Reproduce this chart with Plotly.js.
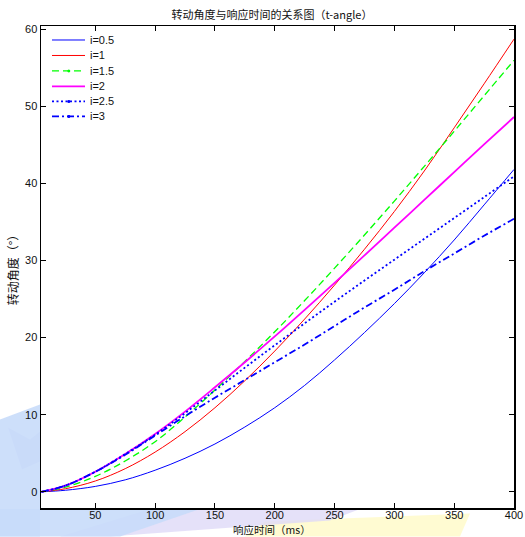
<!DOCTYPE html>
<html>
<head>
<meta charset="utf-8">
<script src="https://cdn.plot.ly/plotly-3.0.1.min.js"></script>
<style>html,body{margin:0;padding:0;background:#fff;}#chart{width:525px;height:537px;}</style>
</head>
<body>
<div id="chart"></div>
<script>
// ---- data ----
const timeMs = [5,25,50,75,100,125,150,175,200,225,250,275,300,325,350,375,400];
const angleI05 = [0,0.2,0.7,1.55,2.8,4.35,6.2,8.4,10.9,13.8,17.1,20.65,24.4,28.4,32.65,37.2,41.8];
const angleI1  = [0,0.4,1.4,3.0,5.15,7.8,10.9,14.4,18.25,22.4,26.8,31.45,36.35,41.6,47.2,52.9,58.7];
const angleI15 = [0,0.6,2.0,4.0,6.5,9.7,13.2,16.9,20.75,24.8,29.0,33.3,37.7,42.2,46.75,51.35,55.95];
const angleI2  = [0,0.8,2.6,4.9,7.5,10.4,13.55,16.8,20.15,23.6,27.1,30.65,34.25,37.85,41.45,45.05,48.6];
const angleI25 = [0,0.8,2.6,4.9,7.4,10.2,13.15,16.1,19.0,21.85,24.65,27.4,30.1,32.8,35.5,38.2,40.9];
const angleI3  = [0,0.8,2.6,4.8,7.3,9.8,12.2,14.5,16.8,19.1,21.5,23.9,26.2,28.6,30.9,33.2,35.4];
const seriesNames = ['i=0.5','i=1','i=1.5','i=2','i=2.5','i=3'];
const xTicks = [50,100,150,200,250,300,350,400];
const yTicks = [0,10,20,30,40,50,60];
const xTitle = '响应时间（ms）';
const yTitle = '转动角度（°）';
const chartTitle = '转动角度与响应时间的关系图（t-angle）';

const W = 525, H = 537;
const L = 41, R = 514, T = 26, B = 508.5;
const px = x => (x - L) / (R - L);
const py = y => (B - y) / (B - T);

const styles = [
  {color:'#0000ff', width:1,   dash:'solid', dot:false},
  {color:'#ff0000', width:1,   dash:'solid', dot:false},
  {color:'#00ff00', width:1.3, dash:'7px,4px', dot:true},
  {color:'#ff00ff', width:1.8, dash:'solid', dot:false},
  {color:'#0000ff', width:1.8, dash:'2px,2.5px', dot:true},
  {color:'#0000ff', width:1.8, dash:'7px,3px,2px,3px', dot:true}
];
const allY = [angleI05, angleI1, angleI15, angleI2, angleI25, angleI3];

const traces = allY.map((ys, k) => ({
  x: timeMs, y: ys, type: 'scatter', mode: 'lines', name: seriesNames[k],
  line: {color: styles[k].color, width: styles[k].width, dash: styles[k].dash, shape: 'spline', smoothing: 1},
  showlegend: false, hoverinfo: 'skip'
}));

// custom compact legend (MATLAB style)
const shapes = [];
const annotations = [];
const rowY = [40, 55.5, 71, 86.5, 101.5, 116.5];
seriesNames.forEach((nm, k) => {
  const s = styles[k];
  shapes.push({type:'line', xref:'paper', yref:'paper', x0:px(52), x1:px(85), y0:py(rowY[k]), y1:py(rowY[k]),
    line:{color:s.color, width:s.width, dash:s.dash}});
  if (s.dot) {
    shapes.push({type:'circle', xref:'paper', yref:'paper', x0:px(67.3), x1:px(70.3), y0:py(rowY[k]+1.5), y1:py(rowY[k]-1.5),
      fillcolor:s.color, line:{color:s.color, width:0}});
  }
  annotations.push({xref:'paper', yref:'paper', x:px(87.5), y:py(rowY[k]), xanchor:'left', yanchor:'middle',
    text:nm, showarrow:false, font:{family:'Liberation Sans, Arial, sans-serif', size:11, color:'#111'}});
});

// x-axis title placed as annotation (MATLAB puts it close to the bottom edge)
annotations.push({xref:'paper', yref:'paper', x:px(272), y:py(530.3), xanchor:'center', yanchor:'middle',
  text:xTitle, showarrow:false, borderpad:0,
  font:{family:'Noto Sans CJK SC, Liberation Sans, sans-serif', size:10.5, color:'#111'}});

// faint background watermark outside the axes
function path(pts){ return 'M' + pts.map(p => px(p[0]) + ',' + py(p[1])).join(' L') + ' Z'; }
const deco = [
  {d: path([[0,420],[40,405],[40,537],[0,537]]), c:'rgba(200,220,250,0.9)'},
  {d: path([[8,428],[30,440],[40,432],[40,462],[22,470]]), c:'rgba(210,205,245,0.9)'},
  {d: path([[0,509.5],[200,509.5],[120,537],[0,537]]), c:'rgba(200,220,250,0.9)'},
  {d: path([[150,509.5],[360,509.5],[330,521],[110,537],[60,537]]), c:'rgba(222,218,248,0.8)'},
  {d: path([[265,522],[470,514],[460,537],[245,537]]), c:'rgba(255,251,205,0.9)'}
];
deco.forEach(o => shapes.unshift({type:'path', xref:'paper', yref:'paper', path:o.d, fillcolor:o.c, line:{width:0}, layer:'below'}));

const tickFont = {family:'Liberation Sans, Arial, sans-serif', size:11, color:'#111'};
const cjkFont = {family:'Noto Sans CJK SC, Liberation Sans, sans-serif', size:12, color:'#111'};

const layout = {
  width: W, height: H,
  margin: {l: L, r: W - R, t: T, b: H - B, pad: 0},
  paper_bgcolor: '#ffffff', plot_bgcolor: '#ffffff',
  title: {text: chartTitle, font: {family:'Noto Sans CJK SC, Liberation Sans, sans-serif', size:11, color:'#111'},
          x: 0.518, xanchor: 'center', xref:'container', y: 1 - 15.5/H, yref:'container', yanchor: 'middle'},
  xaxis: {range: [4.6, 400], tickvals: xTicks, ticktext: xTicks.map(String), ticks: 'inside', ticklen: 5, tickwidth: 1,
          tickcolor: '#000', showline: true, linecolor: '#000', linewidth: 1.5, mirror: 'allticks', showgrid: false, zeroline: false,
          tickfont: tickFont, ticklabelstandoff: -4},
  yaxis: {range: [-2.1, 60.4], tickvals: yTicks, ticktext: yTicks.map(String), ticks: 'inside', ticklen: 5, tickwidth: 1,
          tickcolor: '#000', showline: true, linecolor: '#000', linewidth: 1.5, mirror: 'allticks', showgrid: false, zeroline: false,
          tickfont: tickFont, title: {text: yTitle, font: cjkFont, standoff: 4}},
  showlegend: false,
  shapes: shapes,
  annotations: annotations
};

Plotly.newPlot('chart', traces, layout, {staticPlot: true, displayModeBar: false});
</script>
</body>
</html>
